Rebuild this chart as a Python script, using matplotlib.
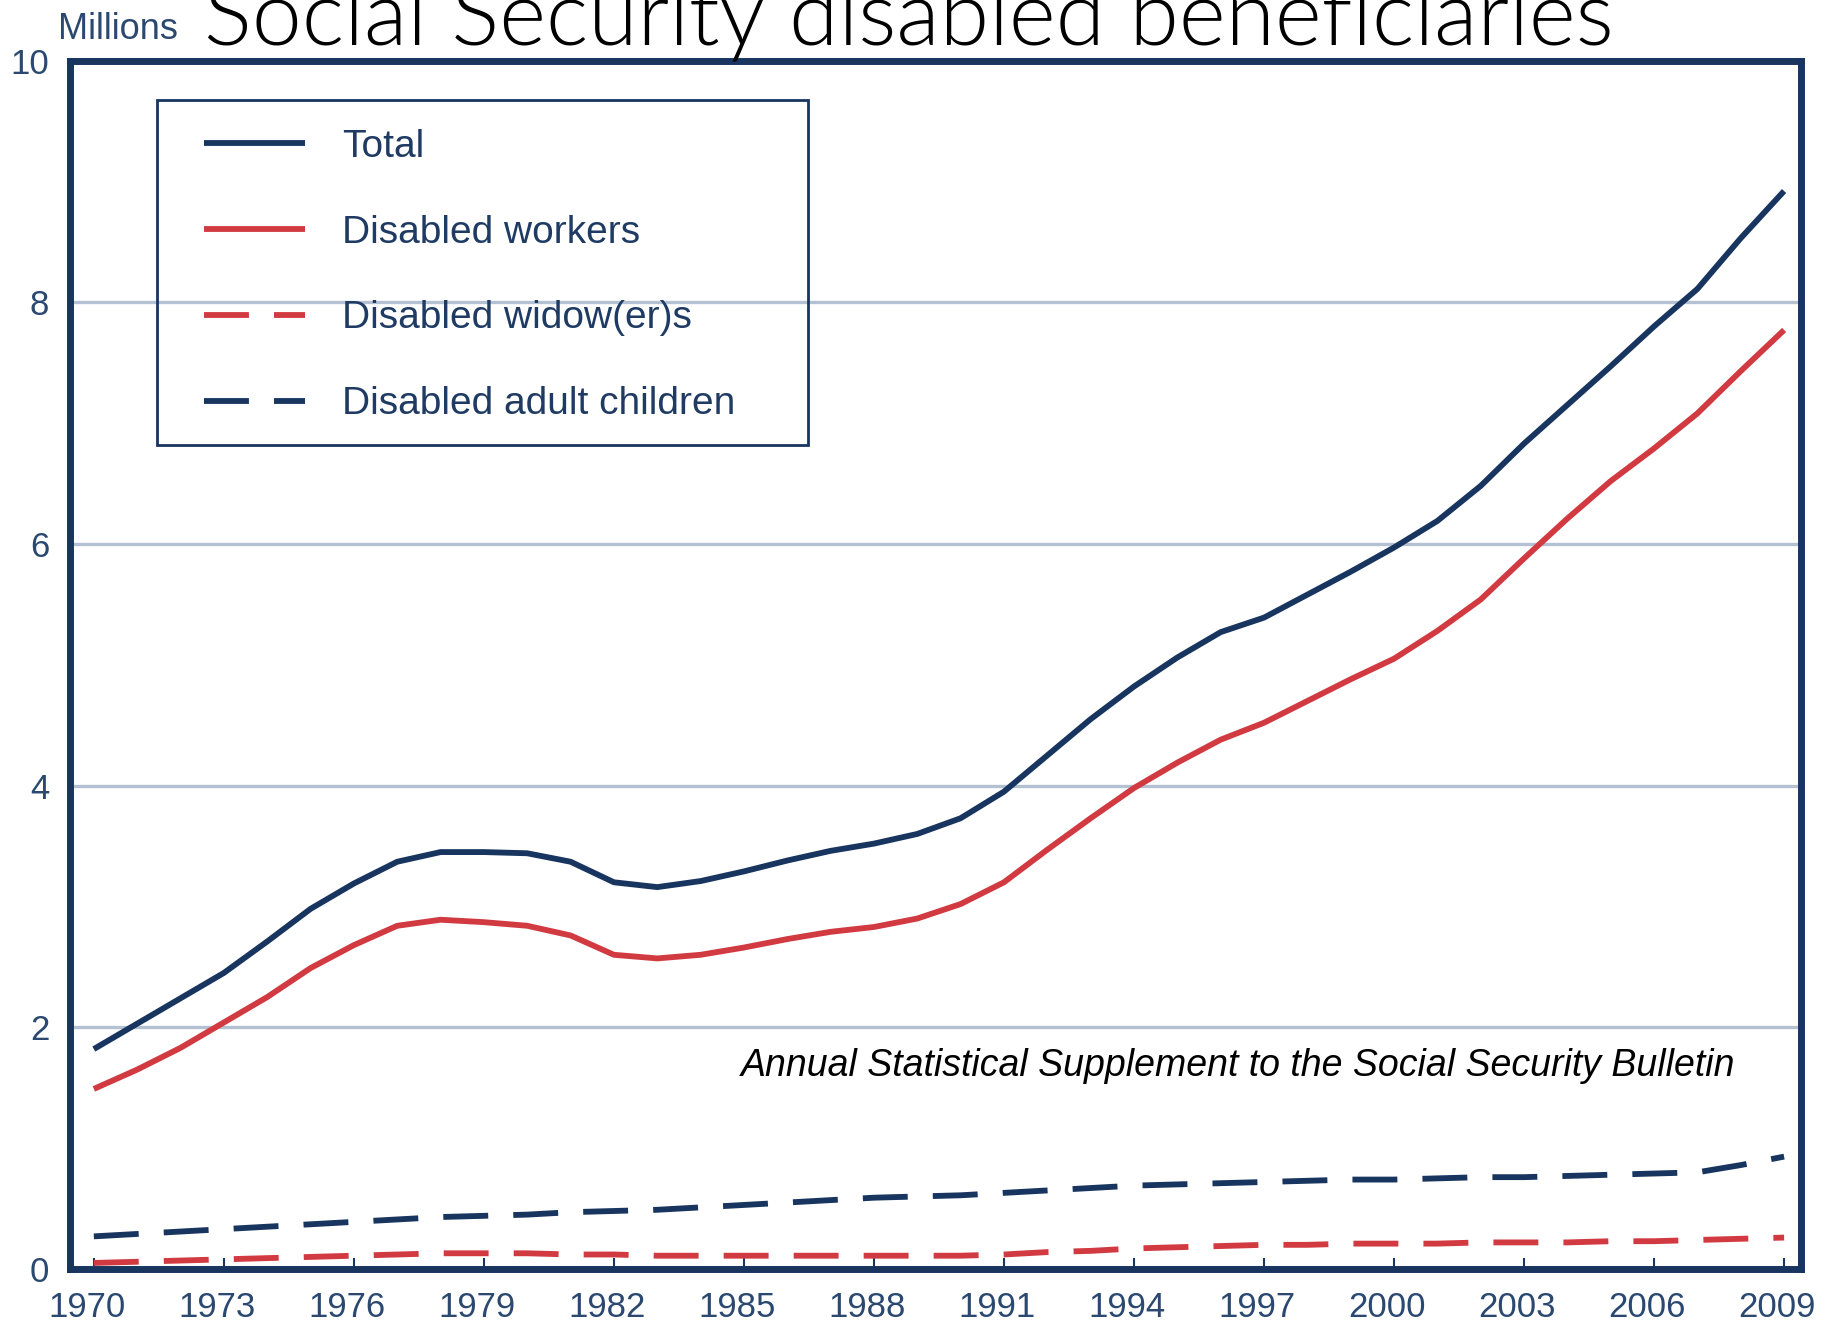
import matplotlib
matplotlib.use("Agg")
import matplotlib.pyplot as plt
import matplotlib.transforms as mtransforms
from matplotlib.patches import Rectangle

# ---- data (millions) ----
years = list(range(1970, 2010))
total = [1.82, 2.03, 2.24, 2.45, 2.71, 2.98, 3.19, 3.37, 3.45, 3.45,
         3.44, 3.37, 3.20, 3.16, 3.21, 3.29, 3.38, 3.46, 3.52, 3.60,
         3.73, 3.95, 4.25, 4.55, 4.82, 5.06, 5.27, 5.39, 5.58, 5.77,
         5.97, 6.19, 6.48, 6.83, 7.15, 7.47, 7.80, 8.11, 8.53, 8.92]
workers = [1.49, 1.65, 1.83, 2.04, 2.25, 2.49, 2.68, 2.84, 2.89, 2.87,
           2.84, 2.76, 2.60, 2.57, 2.60, 2.66, 2.73, 2.79, 2.83, 2.90,
           3.02, 3.20, 3.47, 3.73, 3.98, 4.19, 4.38, 4.52, 4.70, 4.88,
           5.05, 5.28, 5.54, 5.88, 6.21, 6.52, 6.79, 7.08, 7.43, 7.77]
widows = [0.05, 0.06, 0.07, 0.08, 0.09, 0.10, 0.11, 0.12, 0.13, 0.13,
          0.13, 0.12, 0.12, 0.11, 0.11, 0.11, 0.11, 0.11, 0.11, 0.11,
          0.11, 0.12, 0.14, 0.15, 0.17, 0.18, 0.19, 0.20, 0.20, 0.21,
          0.21, 0.21, 0.22, 0.22, 0.22, 0.23, 0.23, 0.24, 0.25, 0.26]
children = [0.27, 0.29, 0.31, 0.33, 0.35, 0.37, 0.39, 0.41, 0.43, 0.44,
            0.45, 0.47, 0.48, 0.49, 0.51, 0.53, 0.55, 0.57, 0.59, 0.60,
            0.61, 0.63, 0.65, 0.67, 0.69, 0.70, 0.71, 0.72, 0.73, 0.74,
            0.74, 0.75, 0.76, 0.76, 0.77, 0.78, 0.79, 0.80, 0.86, 0.93]
series_labels = ["Total", "Disabled workers", "Disabled widow(er)s",
                 "Disabled adult children"]
xtick_years = list(range(1970, 2010, 3))
ytick_vals = [0, 2, 4, 6, 8, 10]

NAVY = "#18355f"
RED = "#d23a42"
GRID = "#b3c1d2"
TICKC = "#2b4870"

W, H = 1825, 1324
fig = plt.figure(figsize=(W / 100, H / 100), dpi=100)
fig.patch.set_facecolor("white")

ax = fig.add_axes([70 / W, 1 - 1269 / H, (1801 - 70) / W, (1269 - 60.5) / H])

lw = 4.2
ax.plot(years, total, color=NAVY, lw=lw, label=series_labels[0], solid_capstyle="butt")
ax.plot(years, workers, color=RED, lw=lw, label=series_labels[1], solid_capstyle="butt")
ax.plot(years, widows, color=RED, lw=lw, dashes=(7.7, 4.3), label=series_labels[2])
ax.plot(years, children, color=NAVY, lw=lw, dashes=(7.7, 4.3), label=series_labels[3])

ax.set_xlim(1969.45, 2009.39)
ax.set_ylim(0, 10)
ax.set_xticks(xtick_years)
ax.set_yticks(ytick_vals)

ax.yaxis.grid(True, color=GRID, lw=2.4)
ax.xaxis.grid(False)
ax.set_axisbelow(True)

for s in ax.spines.values():
    s.set_color(NAVY)
    s.set_linewidth(5)

ax.tick_params(axis="x", direction="in", length=8, width=1.5, color=NAVY,
               labelsize=25, labelcolor=TICKC, pad=16)
ax.tick_params(axis="y", length=0, labelsize=25, labelcolor=TICKC, pad=15)
for lab in ax.get_xticklabels() + ax.get_yticklabels():
    lab.set_fontfamily("Liberation Sans")
offset = mtransforms.ScaledTranslation(-7 / 100, 0, fig.dpi_scale_trans)
for lab in ax.get_xticklabels():
    lab.set_transform(lab.get_transform() + offset)

# legend
leg = ax.legend(loc="center left", bbox_to_anchor=(204 / W, 1 - 275.5 / H),
                bbox_transform=fig.transFigure, frameon=False,
                borderpad=0, borderaxespad=0, handlelength=2.6,
                handletextpad=0.95, labelspacing=1.28,
                prop={"family": "Liberation Sans", "size": 28})
for t in leg.get_texts():
    t.set_color("#1f3b63")
fig.add_artist(Rectangle((157 / W, 1 - 445 / H), (808 - 157) / W, (445 - 100) / H,
                         transform=fig.transFigure, fill=False,
                         edgecolor=NAVY, lw=2.0, zorder=5))

# texts
fig.text(58 / W, 1 - 39 / H, "Millions", ha="left", va="baseline",
         fontsize=26, color=TICKC, family="Liberation Sans")
fig.text(204 / W, 1 - 45 / H, "Social Security disabled beneficiaries",
         ha="left", va="baseline", fontsize=64.5, color="black",
         family="Lato", fontweight=300)
fig.text(741 / W, 1 - 1066 / H,
         "Annual Statistical Supplement to the Social Security Bulletin",
         ha="left", va="center", fontsize=27, style="italic", color="black",
         family="Liberation Sans")

fig.savefig("out.png", dpi=100, facecolor="white")
